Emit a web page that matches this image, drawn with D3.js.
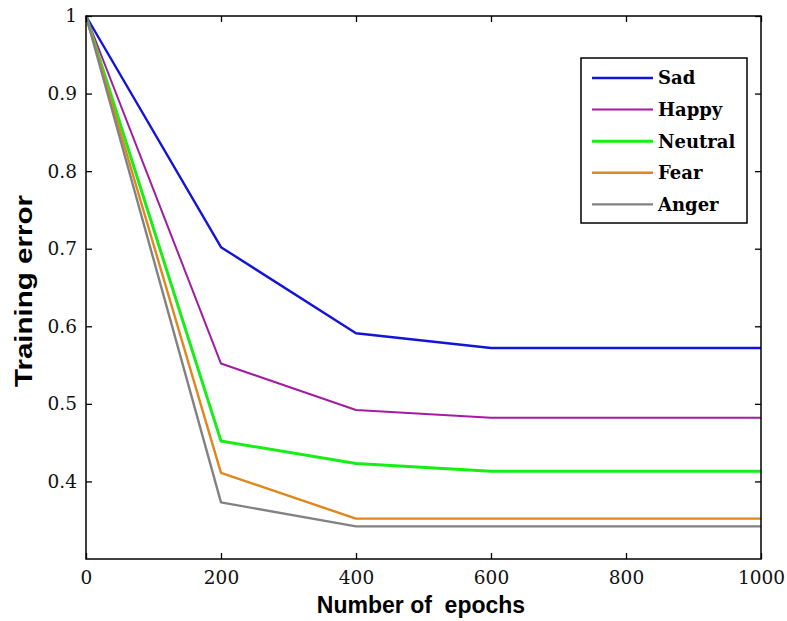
<!DOCTYPE html>
<meta charset="utf-8">
<title>Training error</title>
<style>
  body { margin: 0; background: #fff; }
</style>
<div id="viz"></div>
<script src="https://cdnjs.cloudflare.com/ajax/libs/d3/7.8.5/d3.min.js"></script>
<script>

// data
var epochs = [0, 200, 400, 600, 800, 1000];
var sad     = [1, 0.702, 0.591, 0.572, 0.572, 0.572];
var happy   = [1, 0.552, 0.492, 0.482, 0.482, 0.482];
var neutral = [1, 0.452, 0.423, 0.413, 0.413, 0.413];
var fear    = [1, 0.411, 0.352, 0.352, 0.352, 0.352];
var anger   = [1, 0.373, 0.342, 0.342, 0.342, 0.342];
var names = ["Sad", "Happy", "Neutral", "Fear", "Anger"];
var xTicks = [0, 200, 400, 600, 800, 1000];
var yTicks = [0.4, 0.5, 0.6, 0.7, 0.8, 0.9, 1];

var series = [sad, happy, neutral, fear, anger];
var colors = ["#1414d8", "#a21ca2", "#16ee16", "#e0861c", "#828282"];
var widths = [2.4, 2, 3, 2.4, 2.4];

var width = 787;
var height = 621;
// note: "top" clashes with window.top, so prefix these
var pLeft = 86, pTop = 16, pRight = 761, pBottom = 559;

var svg = d3.select("#viz")
  .append("svg")
  .attr("width", width)
  .attr("height", height);

var x = d3.scaleLinear().domain([0, 1000]).range([pLeft, pRight]);
var y = d3.scaleLinear().domain([0.3, 1]).range([pBottom, pTop]);

// lines
var line = d3.line()
  .x(function(d, i) { return x(epochs[i]); })
  .y(function(d) { return y(d); });

svg.selectAll(".series")
  .data(series)
  .enter().append("path")
  .attr("class", "series")
  .attr("fill", "none")
  .attr("stroke", function(d, i) { return colors[i]; })
  .attr("stroke-width", function(d, i) { return widths[i]; })
  .attr("stroke-linejoin", "round")
  .attr("d", line);

// axes, ticks pointing inward (matlab style)
function styleAxis(g) {
  g.select(".domain").remove();
  g.selectAll(".tick line").attr("stroke", "#000").attr("stroke-width", 1.3);
}

svg.append("g")
  .attr("transform", "translate(0," + pBottom + ")")
  .call(d3.axisBottom(x).tickValues(xTicks).tickSize(-6).tickPadding(12).tickFormat(d3.format("d")))
  .call(styleAxis)
  .selectAll("text")
  .attr("font-family", "DejaVu Serif")
  .attr("font-size", 18.5)
  .attr("fill", "#111");

svg.append("g")
  .attr("transform", "translate(0," + pTop + ")")
  .call(d3.axisTop(x).tickValues(xTicks).tickSize(-6).tickFormat(""))
  .call(styleAxis);

svg.append("g")
  .attr("transform", "translate(" + pLeft + ",0)")
  .call(d3.axisLeft(y).tickValues(yTicks).tickSize(-6).tickPadding(9).tickFormat(d3.format("")))
  .call(styleAxis)
  .selectAll("text")
  .attr("font-family", "DejaVu Serif")
  .attr("font-size", 18.5)
  .attr("fill", "#111");

svg.append("g")
  .attr("transform", "translate(" + pRight + ",0)")
  .call(d3.axisRight(y).tickValues(yTicks).tickSize(-6).tickFormat(""))
  .call(styleAxis);

// frame
svg.append("rect")
  .attr("x", pLeft)
  .attr("y", pTop)
  .attr("width", pRight - pLeft)
  .attr("height", pBottom - pTop)
  .attr("fill", "none")
  .attr("stroke", "#000")
  .attr("stroke-width", 1.5);

// axis titles
svg.append("text")
  .attr("x", 421)
  .attr("y", 613)
  .attr("text-anchor", "middle")
  .attr("font-family", "Liberation Sans, Arial")
  .attr("font-weight", "bold")
  .attr("font-size", 23)
  .attr("xml:space", "preserve")
  .text("Number of  epochs");

svg.append("text")
  .attr("transform", "translate(32,291) rotate(-90)")
  .attr("text-anchor", "middle")
  .attr("font-family", "Liberation Sans, Arial")
  .attr("font-weight", "bold")
  .attr("font-size", 23)
  .attr("textLength", 192)
  .attr("lengthAdjust", "spacingAndGlyphs")
  .text("Training error");

// legend
var legend = svg.append("g");
legend.append("rect")
  .attr("x", 581)
  .attr("y", 58)
  .attr("width", 166)
  .attr("height", 165)
  .attr("fill", "#fff")
  .attr("stroke", "#000")
  .attr("stroke-width", 1.5);

var rows = legend.selectAll(".row")
  .data(names)
  .enter().append("g")
  .attr("class", "row")
  .attr("transform", function(d, i) { return "translate(0," + (78 + i * 31.6) + ")"; });

rows.append("line")
  .attr("x1", 592).attr("x2", 653)
  .attr("stroke", function(d, i) { return colors[i]; })
  .attr("stroke-width", function(d, i) { return widths[i]; });

rows.append("text")
  .attr("x", 658)
  .attr("dy", "0.35em")
  .attr("font-family", "DejaVu Serif")
  .attr("font-weight", "bold")
  .attr("font-size", 18)
  .text(function(d) { return d; });

</script>
